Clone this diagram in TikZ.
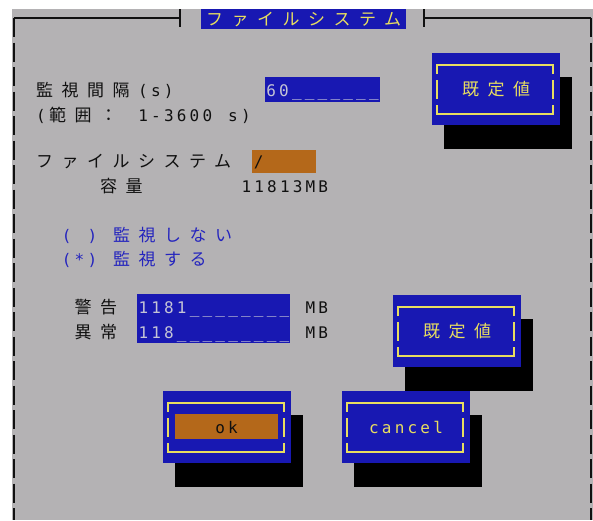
\documentclass[tikz,border=0pt]{standalone}
\usepackage{fontspec}
\newfontfamily\monofont[LetterSpace=20]{DejaVu Sans Mono}
\newfontfamily\jpfont[LetterSpace=50]{Noto Sans CJK JP}
\newcommand{\mtxt}[1]{{\monofont\fontsize{16}{16}\selectfont#1}}
\newcommand{\jtxt}[1]{{\jpfont\fontsize{17}{17}\selectfont#1}}
\newcommand{\gap}{\kern12.83pt}
\newcommand{\mpad}{\kern3.2pt}
\newcommand{\jpad}{\kern8.5pt}
\definecolor{panelgray}{RGB}{180,178,180}
\definecolor{tuiblue}{RGB}{24,24,178}
\definecolor{tuiorange}{RGB}{180,104,26}
\definecolor{tuiyellow}{RGB}{232,222,96}
\definecolor{fieldtext}{RGB}{196,196,214}
\definecolor{ink}{RGB}{16,16,16}
\definecolor{radioblue}{RGB}{36,36,190}
% button: name, x, y, label
\newcommand{\tuibutton}[4]{%
  \begin{scope}[shift={(#2,#3)}]
    \fill[black] (12,24) rectangle (140,96);
    \node[btn] (#1) at (64,36) {#4};
    \draw[btnframe] (5,21) -- (5,12) -- (121,12) -- (121,21)
      (5,27) -- (5,46) (121,27) -- (121,46)
      (5,52) -- (5,61) -- (121,61) -- (121,52);
  \end{scope}}
\begin{document}
\begin{tikzpicture}[x=1pt,y=-1pt]
\tikzset{
  cell/.style={inner sep=0pt,text height=16pt,text depth=3pt,text=ink},
  lbl/.style={cell,anchor=west},
  field/.style={cell,fill=tuiblue,text=fieldtext},
  btn/.style={cell,fill=tuiblue,text=tuiyellow,minimum width=128pt,minimum height=72pt},
  btnframe/.style={tuiyellow,line width=1.5pt},
  frameline/.style={ink,line width=1.6pt}
}
\useasboundingbox (0,0) rectangle (593,520);
\fill[white] (0,0) rectangle (593,520);
\fill[panelgray] (12,9) rectangle (593,520);
% frame
\draw[frameline] (14,18) -- (180,18) (180,9) -- (180,27);
\draw[frameline] (424,9) -- (424,27) (424,18) -- (591,18);
\draw[frameline,dash pattern=on 19pt off 5.5pt] (14,18) -- (14,520);
\draw[frameline,dash pattern=on 19pt off 5.5pt] (591,18) -- (591,520);
\node[field,text=tuiyellow,minimum width=205pt,minimum height=20pt] (title) at (303.5,19) {\jtxt{ファイルシステム}};
% interval
\node[lbl] (interval) at (36,90) {\jtxt{監視間隔}\jpad\mtxt{(s)}};
\node[lbl] (range) at (36,115) {\mtxt{(}\mpad\jtxt{範囲：}\jpad\gap\mtxt{1-3600}\mpad\gap\mtxt{s)}};
\node[field,minimum width=115pt,minimum height=25pt] (intervalval) at (322.5,89.5) {\mtxt{60\_\_\_\_\_\_\_}};
% file system
\node[lbl] (fslabel) at (36,161) {\jtxt{ファイルシステム}};
\node[cell,fill=tuiorange,minimum width=64pt,minimum height=23pt] (fsval) at (284,161.5) {};
\node[lbl] (fsslash) at (253.6,161) {\mtxt{/}};
\node[lbl] (caplabel) at (100,186) {\jtxt{容量}};
\node[lbl] (capval) at (241.3,186) {\mtxt{11813MB}};
% radio
\node[lbl,text=radioblue] (nomon) at (61.7,235) {\mtxt{(}\mpad\gap\mtxt{)}\mpad\gap\jtxt{監視しない}};
\node[lbl,text=radioblue] (domon) at (61.7,258.5) {\mtxt{(*)}\mpad\gap\jtxt{監視する}};
% limits
\node[lbl] (warnlabel) at (74.5,306.5) {\jtxt{警告}};
\node[lbl] (errlabel) at (74.5,331.5) {\jtxt{異常}};
\node[field,minimum width=153pt,minimum height=49pt] (limits) at (213.5,318.5) {};
\node[lbl,text=fieldtext] (warnval) at (138.3,306.5) {\mtxt{1181\_\_\_\_\_\_\_\_}};
\node[lbl,text=fieldtext] (errval) at (138.3,331.5) {\mtxt{118\_\_\_\_\_\_\_\_\_}};
\node[lbl] (warnunit) at (305.4,307) {\mtxt{MB}};
\node[lbl] (errunit) at (305.4,331.5) {\mtxt{MB}};
% buttons
\tuibutton{default1}{432}{53}{\jtxt{既定値}}
\tuibutton{default2}{393}{295}{\jtxt{既定値}}
\tuibutton{cancel}{342}{391}{\mtxt{cancel}}
\tuibutton{ok}{163}{391}{}
\node[cell,fill=tuiorange,minimum width=103pt,minimum height=25pt] (okkey) at (226.5,426.5) {\mtxt{ok}};
\end{tikzpicture}
\end{document}
